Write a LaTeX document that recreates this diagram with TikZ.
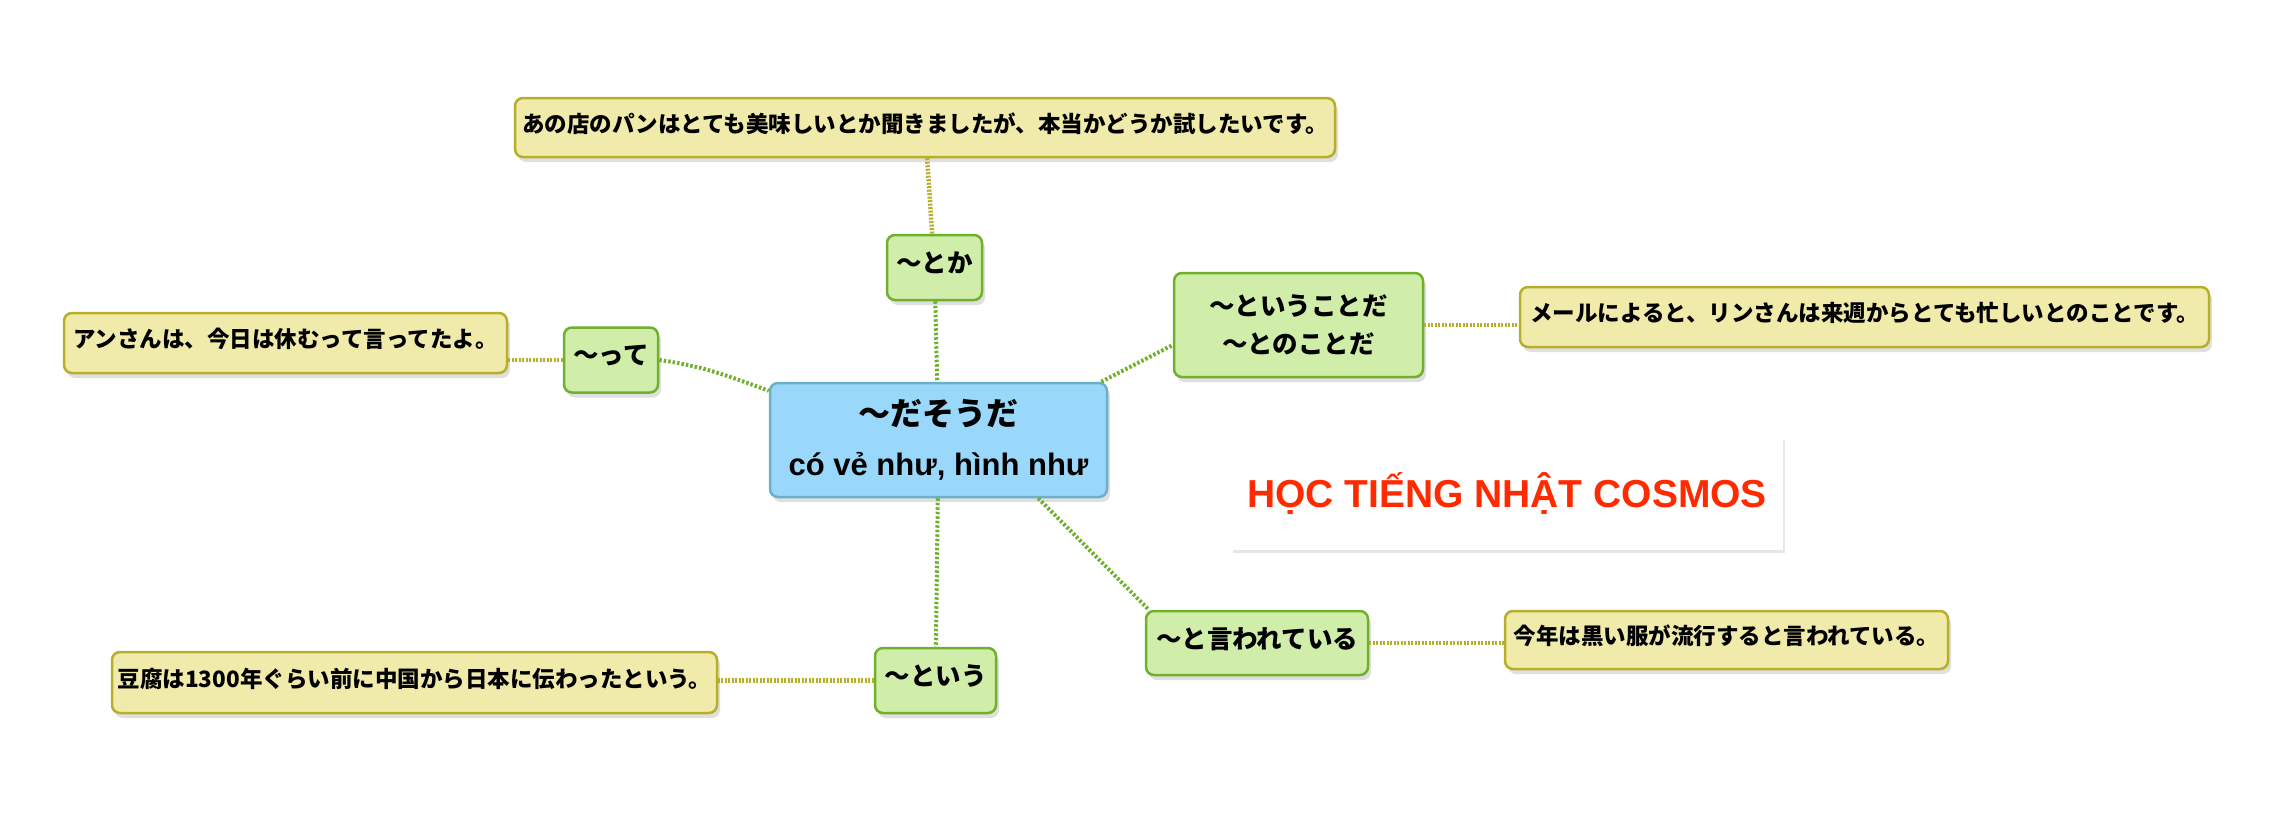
\documentclass[tikz,border=0pt]{standalone}
\usepackage{fontspec}
\usepackage{tikz}
\usetikzlibrary{shadows}
\setmainfont{Liberation Sans}
\newfontfamily\jp{Noto Sans CJK JP}
\definecolor{notefill}{RGB}{240,235,170}
\definecolor{noteline}{RGB}{183,174,42}
\definecolor{formfill}{RGB}{208,238,170}
\definecolor{formline}{RGB}{112,176,44}
\definecolor{gistfill}{RGB}{153,216,250}
\definecolor{gistline}{RGB}{106,176,200}
\definecolor{logored}{RGB}{255,42,0}

\begin{document}
\begin{tikzpicture}[x=1pt, y=-1pt, thick,
                    box/.style = {rounded corners=8pt, line width=2.5pt, inner sep=0pt, align=center,
                                  drop shadow={opacity=0.25, shadow xshift=3pt, shadow yshift=-5pt}},
                    note/.style = {box, draw=noteline, fill=notefill, minimum height=59pt, text depth=10pt,
                                   font=\jp\bfseries\fontsize{22.5}{26}\selectfont},
                    form/.style = {box, draw=formline, fill=formfill, minimum height=65pt,
                                   font=\jp\bfseries\fontsize{25.5}{38}\selectfont},
                    tag/.style = {form, text depth=10pt},
                    gist/.style = {box, draw=gistline, fill=gistfill, minimum width=337pt, minimum height=114pt,
                                   font=\bfseries\fontsize{31}{50}\selectfont},
                    logo/.style = {fill=white, minimum width=552pt, minimum height=113pt, text=logored,
                                   drop shadow={opacity=0.2, shadow xshift=2pt, shadow yshift=-3pt},
                                   font=\bfseries\fontsize{39}{44}\selectfont},
                    link/.style = {draw=formline, line width=4pt, dash pattern=on 2.5pt off 2pt},
                    hint/.style = {draw=noteline, line width=4.5pt, dash pattern=on 2pt off 1.5pt}]
    \useasboundingbox (0,0) rectangle (2292,830);

    \node[gist] (core) at (938.5,440) {{\jp\fontsize{32}{50}\selectfont ～だそうだ}\\có vẻ như, hình như};
    \node[tag, minimum width=95pt] (toka) at (934.5,267.5) {～とか};
    \node[tag, minimum width=94pt] (tte) at (611,360) {～って};
    \node[form, minimum width=249pt, minimum height=104pt] (iukoto) at (1298.5,325) {～ということだ\\～とのことだ};
    \node[tag, minimum width=222pt, minimum height=64pt] (iwarete) at (1257,643) {～と言われている};
    \node[tag, minimum width=121pt] (toiu) at (935.5,680.5) {～という};

    \node[note, minimum width=820pt] (pan) at (925,127.5) {あの店のパンはとても美味しいとか聞きましたが、本当かどうか試したいです。};
    \node[note, minimum width=443pt, minimum height=60pt] (an) at (285.5,343) {アンさんは、今日は休むって言ってたよ。};
    \node[note, minimum width=689pt, minimum height=60pt] (meru) at (1864.5,317) {メールによると、リンさんは来週からとても忙しいとのことです。};
    \node[note, minimum width=443pt, minimum height=58pt] (kotoshi) at (1726.5,640) {今年は黒い服が流行すると言われている。};
    \node[note, minimum width=605pt, minimum height=61pt] (tofu) at (414.5,682.5) {豆腐は1300年ぐらい前に中国から日本に伝わったという。};

    \node[logo] (school) at (1507,493.5) {HỌC TIẾNG NHẬT COSMOS};

    \draw[hint] (pan) -- (toka);
    \draw[link] (toka) -- (core);
    \draw[link] (tte.east) to[out=-8, in=160] ([yshift=-9pt]core.north west);
    \draw[hint] (tte.west) -- (an.east |- tte.west);
    \draw[link] ([xshift=-7pt]core.north east) -- ([yshift=-20pt]iukoto.west);
    \draw[hint] (iukoto.east) -- (meru.west |- iukoto.east);
    \draw[link] (core) -- (toiu);
    \draw[hint] (toiu.west) -- (tofu.east |- toiu.west);
    \draw[link] ([xshift=-70pt]core.south east) -- ([xshift=4pt]iwarete.north west);
    \draw[hint] (iwarete.east) -- (kotoshi.west |- iwarete.east);
\end{tikzpicture}
\end{document}
